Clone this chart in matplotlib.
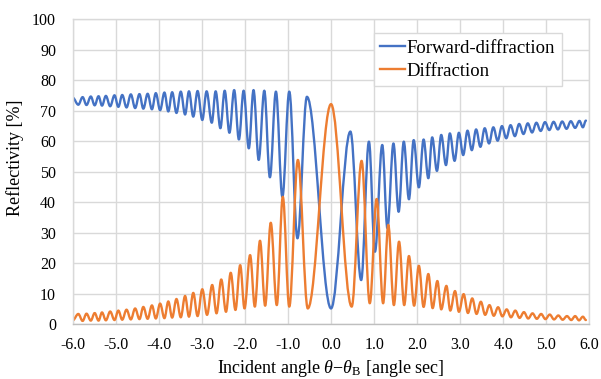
import matplotlib
matplotlib.use("Agg")
import matplotlib.pyplot as plt
from matplotlib.path import Path
from matplotlib.patches import PathPatch
from matplotlib.lines import Line2D

plt.rcParams['font.family'] = ['Liberation Serif', 'DejaVu Serif']
plt.rcParams['mathtext.fontset'] = 'custom'
plt.rcParams['mathtext.rm'] = 'Liberation Serif'
plt.rcParams['mathtext.it'] = 'Liberation Serif:italic'

# ---- data: extrema (peaks / troughs) ----
fwd_angle = [-6.00, -5.87, -5.77, -5.68, -5.58, -5.49, -5.40, -5.32, -5.23, -5.13,
             -5.03, -4.94, -4.85, -4.75, -4.65, -4.55, -4.45, -4.36, -4.26, -4.16,
             -4.07, -3.97, -3.87, -3.78, -3.69, -3.59, -3.49, -3.39, -3.30, -3.20,
             -3.10, -2.99, -2.89, -2.77, -2.68, -2.57, -2.47, -2.36, -2.25, -2.14,
             -2.03, -1.91, -1.80, -1.68, -1.55, -1.42, -1.28, -1.13, -0.97, -0.78,
             -0.56, 0.00, 0.45, 0.70, 0.88, 1.02, 1.19, 1.31, 1.45, 1.57,
             1.69, 1.81, 1.92, 2.04, 2.15, 2.26, 2.35, 2.46, 2.56, 2.67,
             2.76, 2.87, 2.97, 3.07, 3.17, 3.27, 3.37, 3.47, 3.57, 3.67,
             3.77, 3.87, 3.97, 4.07, 4.17, 4.27, 4.37, 4.47, 4.57, 4.67,
             4.77, 4.87, 4.97, 5.07, 5.17, 5.27, 5.37, 5.47, 5.57, 5.67,
             5.77, 5.85, 5.92]
fwd_refl = [74.2, 71.9, 74.4, 71.8, 74.6, 71.7, 74.7, 71.6, 74.8, 71.4,
            75.0, 71.2, 75.1, 71.0, 75.3, 70.8, 75.4, 70.6, 75.5, 70.4,
            75.7, 70.1, 75.9, 69.7, 76.0, 69.2, 76.2, 68.7, 76.3, 68.0,
            76.4, 66.9, 76.3, 66.0, 76.3, 64.2, 76.5, 62.7, 76.7, 60.5,
            76.5, 57.6, 76.7, 53.8, 76.5, 48.1, 76.2, 41.7, 76.2, 28.1,
            74.5, 5.1, 63.1, 14.4, 59.8, 23.7, 58.7, 31.4, 59.2, 36.8,
            59.8, 40.9, 60.3, 44.8, 60.5, 47.8, 61.2, 50.2, 62.0, 52.1,
            62.5, 53.5, 62.7, 55.4, 63.4, 57.0, 63.8, 58.1, 64.2, 59.2,
            64.5, 60.1, 64.9, 60.9, 65.2, 61.6, 65.6, 62.3, 65.8, 62.8,
            66.0, 63.3, 66.2, 63.6, 66.3, 63.8, 66.4, 64.0, 66.5, 64.3,
            66.6, 64.5, 66.7]

dif_angle = [-6.00, -5.87, -5.77, -5.68, -5.58, -5.49, -5.40, -5.32, -5.23, -5.13,
             -5.03, -4.94, -4.85, -4.75, -4.65, -4.55, -4.45, -4.36, -4.26, -4.16,
             -4.07, -3.97, -3.87, -3.78, -3.69, -3.59, -3.49, -3.39, -3.30, -3.20,
             -3.10, -2.99, -2.88, -2.76, -2.66, -2.55, -2.44, -2.33, -2.22, -2.11,
             -2.01, -1.88, -1.77, -1.65, -1.53, -1.40, -1.26, -1.12, -0.97, -0.77,
             -0.54, 0.00, 0.48, 0.71, 0.90, 1.06, 1.21, 1.33, 1.46, 1.58,
             1.70, 1.81, 1.93, 2.04, 2.15, 2.26, 2.36, 2.47, 2.56, 2.68,
             2.77, 2.88, 2.97, 3.08, 3.18, 3.28, 3.38, 3.48, 3.58, 3.68,
             3.78, 3.88, 3.98, 4.08, 4.18, 4.28, 4.38, 4.48, 4.58, 4.68,
             4.78, 4.88, 4.98, 5.08, 5.18, 5.28, 5.38, 5.48, 5.58, 5.67,
             5.76, 5.85, 5.92]
dif_refl = [1.2, 3.3, 1.0, 3.4, 1.1, 3.6, 1.1, 3.8, 1.2, 4.1,
            1.3, 4.4, 1.4, 4.7, 1.5, 5.1, 1.6, 5.6, 1.7, 6.1,
            1.8, 6.7, 1.9, 7.4, 2.1, 8.2, 2.2, 9.2, 2.4, 10.2,
            2.6, 11.4, 3.0, 12.8, 3.5, 14.6, 4.0, 16.8, 4.6, 19.3,
            5.1, 22.6, 5.7, 27.3, 6.0, 33.2, 6.2, 41.7, 5.7, 53.8,
            5.1, 72.1, 5.7, 53.5, 6.8, 41.0, 6.8, 32.5, 6.2, 27.0,
            6.2, 22.3, 6.0, 19.1, 5.6, 16.4, 5.2, 14.1, 4.8, 12.5,
            4.4, 10.8, 4.0, 9.8, 3.6, 8.4, 3.3, 7.3, 3.0, 6.2,
            2.7, 5.5, 2.5, 4.8, 2.2, 4.4, 2.0, 3.9, 1.8, 3.5,
            1.7, 3.3, 1.6, 3.1, 1.5, 2.8, 1.4, 2.6, 1.3, 2.6,
            1.2, 2.4, 1.3]

x_ticks = [-6, -5, -4, -3, -2, -1, 0, 1, 2, 3, 4, 5, 6]
x_ticklabels = ['-6.0', '-5.0', '-4.0', '-3.0', '-2.0', '-1.0', '0.0',
                '1.0', '2.0', '3.0', '4.0', '5.0', '6.0']
y_ticks = [0, 10, 20, 30, 40, 50, 60, 70, 80, 90, 100]

series_names = ['Forward-diffraction', 'Diffraction']
series_colors = ['#4472C4', '#ED7D31']


def smooth_path(xs, ys, k=0.36):
    """Smoothed line through extrema (horizontal tangents), like a spreadsheet smoothed line."""
    verts = [(xs[0], ys[0])]
    codes = [Path.MOVETO]
    for i in range(len(xs) - 1):
        dx = xs[i + 1] - xs[i]
        verts += [(xs[i] + k * dx, ys[i]), (xs[i + 1] - k * dx, ys[i + 1]),
                  (xs[i + 1], ys[i + 1])]
        codes += [Path.CURVE4] * 3
    return Path(verts, codes)


fig = plt.figure(figsize=(6.01, 3.79), dpi=100)
ax = fig.add_axes([0.121, 0.1451, 0.8596, 0.8047])

grid_c = '#D9D9D9'
ax.set_xlim(-6, 6)
ax.set_ylim(0, 100)
ax.set_xticks(x_ticks)
ax.set_xticklabels(x_ticklabels)
ax.set_yticks(y_ticks)
ax.grid(True, color=grid_c, lw=1.0)
ax.set_axisbelow(True)
for s in ax.spines.values():
    s.set_color(grid_c)
    s.set_linewidth(1.0)
ax.spines['bottom'].set_color('#BFBFBF')
ax.tick_params(length=0, labelsize=11.5, colors='#000000')
ax.tick_params(axis='y', pad=12)
ax.tick_params(axis='x', pad=9)

lw = 1.7
for xs, ys, c in [(fwd_angle, fwd_refl, series_colors[0]),
                  (dif_angle, dif_refl, series_colors[1])]:
    patch = PathPatch(smooth_path(xs, ys), facecolor='none', edgecolor=c,
                      lw=lw, transform=ax.transData, capstyle='round',
                      joinstyle='round')
    ax.add_patch(patch)

ax.set_xlabel(r'Incident angle $\theta$−$\theta_{\mathrm{B}}$ [angle sec]',
              fontsize=13)
ax.set_ylabel('Reflectivity [%]', fontsize=13)
ax.yaxis.set_label_coords(-0.094, 0.544)
ax.xaxis.set_label_coords(0.5, -0.112)

handles = [Line2D([], [], color=c, lw=lw) for c in series_colors]
leg = ax.legend(handles, series_names, loc='upper left',
                bbox_to_anchor=(0.583, 0.953), borderaxespad=0,
                fontsize=13.5, frameon=True, fancybox=False, framealpha=1,
                edgecolor=grid_c, handlelength=1.3, handletextpad=0.1,
                labelspacing=0.3, borderpad=0.35)
leg.get_frame().set_linewidth(1.0)

fig.savefig('out.png', dpi=100)
